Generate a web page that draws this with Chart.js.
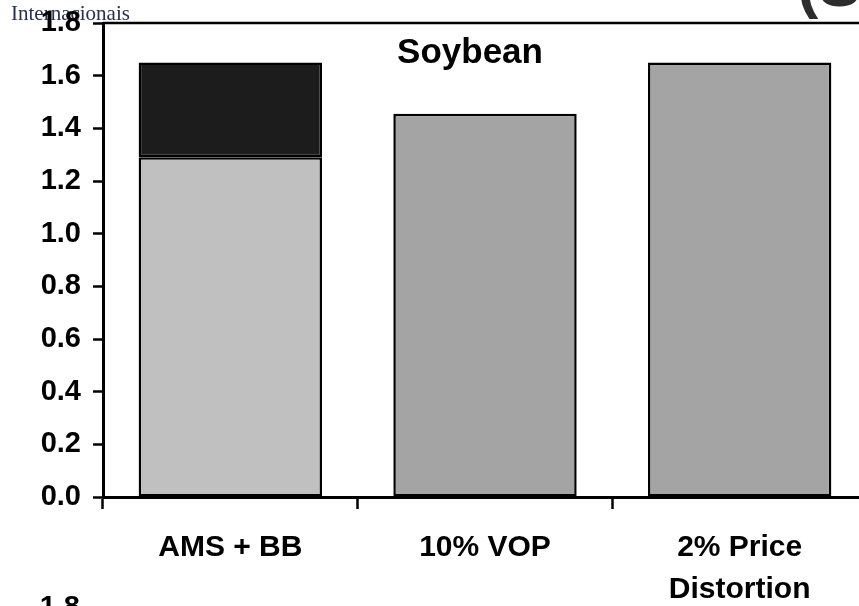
<!DOCTYPE html>
<html>
<head>
<meta charset="utf-8">
<script src="https://cdn.jsdelivr.net/npm/chart.js@4"></script>
<style>
  html, body { margin: 0; padding: 0; background: #fff; overflow: hidden; }
  #wrap { position: absolute; left: 0; top: 0; width: 880px; height: 606px; }
</style>
</head>
<body>
<div id="wrap"><canvas id="chart" width="880" height="606"></canvas></div>
<script>
// data
const categories = ["AMS + BB", "10% VOP", ["2% Price", "Distortion"]];
const baseValues = [1.29, 1.455, 1.65];
const extraValues = [0.36, null, null];
const yTicks = [0, 0.2, 0.4, 0.6, 0.8, 1.0, 1.2, 1.4, 1.6, 1.8];

const FONT = "'Liberation Sans', Arial, sans-serif";

// ── TEXT AND FRAME THAT CHART.JS DOES NOT PLACE ITSELF
const extras = {
  id: "extras",
  beforeDraw(chart) {
    const ctx = chart.ctx;
    ctx.save();
    ctx.fillStyle = "#26304f";
    ctx.font = "21px 'Liberation Serif', 'DejaVu Serif', serif";
    ctx.textAlign = "left";
    ctx.textBaseline = "alphabetic";
    ctx.fillText("Internacionais", 11, 20);
    ctx.restore();
  },
  afterDraw(chart) {
    const { ctx, chartArea } = chart;
    ctx.save();
    // top frame line
    ctx.strokeStyle = "#000";
    ctx.lineWidth = 2.5;
    ctx.beginPath();
    ctx.moveTo(chartArea.left, chartArea.top);
    ctx.lineTo(chart.width, chartArea.top);
    ctx.stroke();

    ctx.fillStyle = "#000";
    ctx.font = "bold 35px " + FONT;
    ctx.textAlign = "center";
    ctx.textBaseline = "alphabetic";
    ctx.fillText("Soybean", 470, 63);

    ctx.fillStyle = "#2d2d2d";
    ctx.font = "bold 64px " + FONT;
    ctx.textAlign = "left";
    ctx.fillText("(S", 797, 6);

    ctx.fillStyle = "#000";
    ctx.font = "bold 29px " + FONT;
    ctx.textAlign = "right";
    ctx.textBaseline = "middle";
    ctx.fillText("1.8", 80, 608);
    ctx.restore();
  }
};

new Chart(document.getElementById("chart"), {
  type: "bar",
  data: {
    labels: categories,
    datasets: [
      {
        data: baseValues,
        backgroundColor: ["#c0c0c0", "#a4a4a4", "#a4a4a4"],
        borderColor: "#000",
        borderWidth: 2.5,
        borderSkipped: false,
      },
      {
        data: extraValues,
        backgroundColor: "#1c1c1c",
        borderColor: "#000",
        borderWidth: 2.5,
        borderSkipped: false,
      },
    ],
  },
  options: {
    responsive: false,
    animation: false,
    devicePixelRatio: 1,
    layout: { padding: { top: 23, right: 13, left: 0, bottom: 0 } },
    plugins: { legend: { display: false }, tooltip: { enabled: false } },
    datasets: { bar: { barPercentage: 0.72, categoryPercentage: 1 } },
    scales: {
      x: {
        stacked: true,
        afterFit: (s) => { s.height = 109; s.paddingLeft = 0; s.paddingRight = 0; },
        grid: {
          offset: true,
          drawOnChartArea: false,
          drawTicks: true,
          tickLength: 12,
          tickWidth: 2.5,
          tickColor: "#000",
        },
        border: { display: true, color: "#000", width: 3 },
        ticks: {
          color: "#000",
          padding: 18,
          maxRotation: 0,
          font: { family: FONT, size: 30, weight: "bold", lineHeight: 1.4 },
        },
      },
      y: {
        stacked: true,
        min: 0,
        max: 1.8,
        afterFit: (s) => { s.width = 103; s.paddingTop = 0; s.paddingBottom = 0; },
        afterBuildTicks: (s) => { s.ticks = yTicks.map((v) => ({ value: v })); },
        grid: {
          drawOnChartArea: false,
          drawTicks: true,
          tickLength: 10,
          tickWidth: 2.5,
          tickColor: "#000",
        },
        border: { display: true, color: "#000", width: 3 },
        ticks: {
          color: "#000",
          padding: 12,
          callback: (v) => Number(v).toFixed(1),
          font: { family: FONT, size: 29, weight: "bold" },
        },
      },
    },
  },
  plugins: [extras],
});
</script>
</body>
</html>
